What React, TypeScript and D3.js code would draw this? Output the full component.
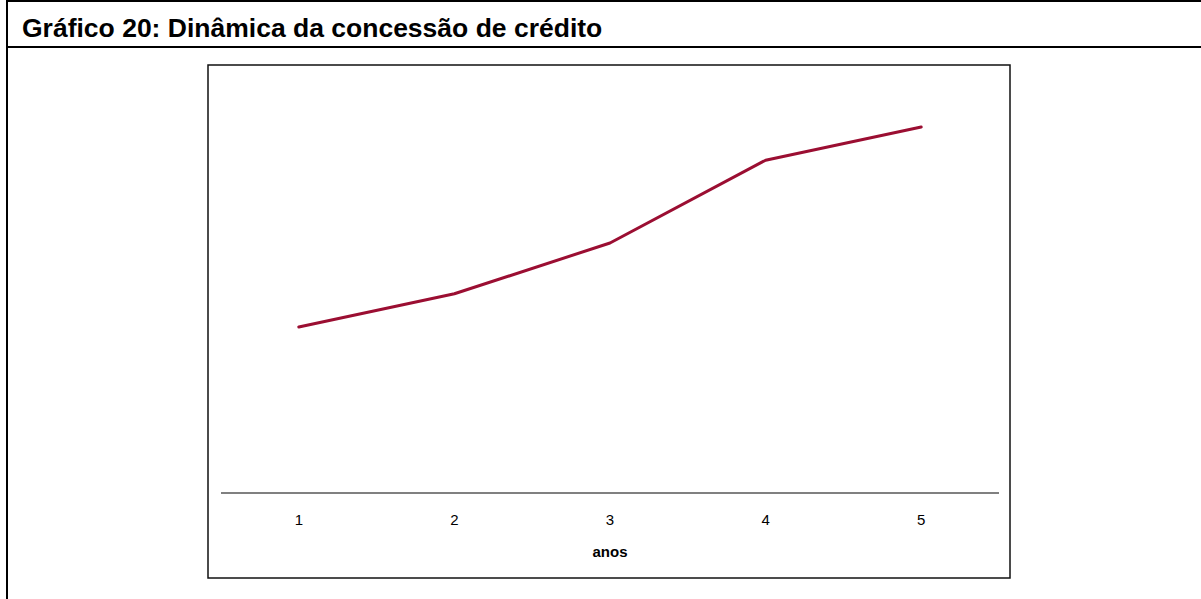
import React from "react";
import * as d3 from "d3";

const categories = ["1", "2", "3", "4", "5"];
const values = [41.5, 49.8, 62.5, 83.2, 91.5];
const title = "Gráfico 20: Dinâmica da concessão de crédito";
const xTitle = "anos";

export default function App() {
  const W = 1201, H = 599;
  const box = { x0: 208, y0: 65, x1: 1010, y1: 578 };
  const plot = { left: 221, right: 999, top: 93, bottom: 493 };
  const x = d3.scalePoint<string>().domain(categories).range([plot.left, plot.right]).padding(0.5);
  const y = d3.scaleLinear().domain([0, 100]).range([plot.bottom, plot.top]);
  const line = d3.line<number>().x((_, i) => x(categories[i]) as number).y((d) => y(d));
  return (
    <svg width={W} height={H} style={{ position: "absolute", left: 0, top: 0, background: "#fff" }}
      fontFamily="Arial, 'Liberation Sans', sans-serif">
      <rect x={0} y={0} width={W} height={H} fill="#fff" />
      {/* outer frame */}
      <line x1={7} x2={W} y1={1} y2={1} stroke="#000" strokeWidth={2} />
      <line x1={7} x2={W} y1={47} y2={47} stroke="#000" strokeWidth={2} />
      <line x1={7} x2={7} y1={0} y2={H} stroke="#000" strokeWidth={2} />
      <text x={22} y={37} fontSize={26.5} fontWeight="bold" fill="#000">{title}</text>
      {/* chart box */}
      <rect x={box.x0} y={box.y0} width={box.x1 - box.x0} height={box.y1 - box.y0} fill="none" stroke="#111" strokeWidth={1.5} />
      <line x1={plot.left} x2={plot.right} y1={plot.bottom} y2={plot.bottom} stroke="#808080" strokeWidth={2} />
      {categories.map((c) => (
        <text key={c} x={x(c)} y={525} textAnchor="middle" fontSize={15} fill="#000">{c}</text>
      ))}
      <text x={(plot.left + plot.right) / 2} y={557} textAnchor="middle" fontSize={15} fontWeight="bold" fill="#000">{xTitle}</text>
      <path d={line(values) || ""} fill="none" stroke="#9B0E32" strokeWidth={3} strokeLinejoin="round" strokeLinecap="round" />
    </svg>
  );
}
